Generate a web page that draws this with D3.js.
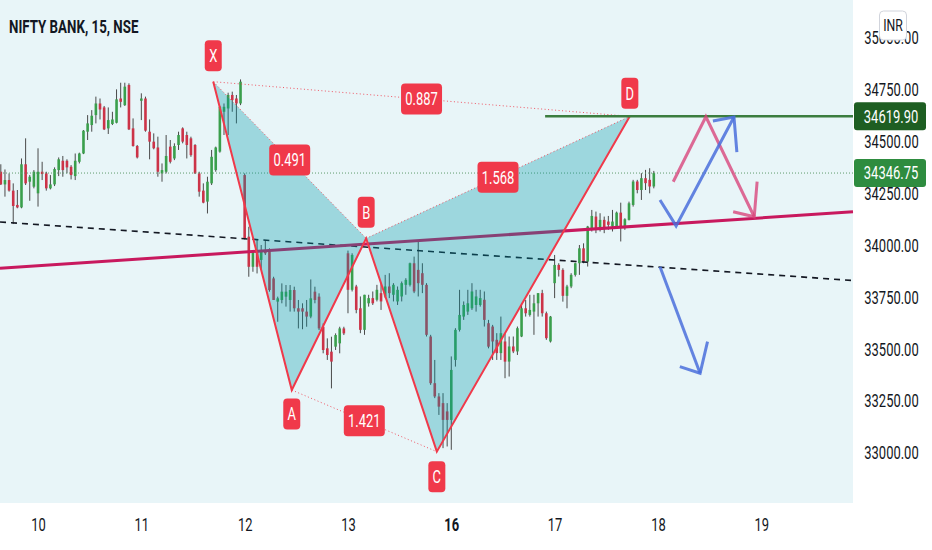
<!DOCTYPE html>
<html>
<head>
<meta charset="utf-8">
<script src="https://cdn.jsdelivr.net/npm/d3@7"></script>
<style>
  body { margin: 0; background: #fff; }
  svg { display: block; font-family: Roboto, "Noto Sans", sans-serif; }
</style>
</head>
<body>
<svg id="chart"></svg>
<script>
// 15 minute bars, 25 per session (last 9 bars of the 9th, then 10,11,12,13,16,17)
const opens = [
  34353,34292,34313,34262,34193,34181,34389,34305,34281,34249,
  34353,34345,34273,34292,34361,34406,34406,34377,34332,34401,
  34441,34546,34578,34626,34682,34663,34562,34583,34589,34706,
  34674,34771,34562,34477,34695,34706,34546,34498,34470,34345,
  34353,34474,34417,34482,34562,34530,34514,34482,34345,34262,
  34209,34297,34361,34450,34642,34658,34723,34706,34682,34337,
  34040,33895,33976,33928,33976,33976,33839,33727,33735,33751,
  33735,33783,33695,33695,33679,33655,33775,33751,33606,33502,
  33486,33510,33526,33598,33960,33784,33800,33695,33591,33719,
  33744,33736,33768,33752,33800,33760,33728,33752,33808,33808,
  33912,33880,33864,33808,33559,33334,33270,33238,33198,33157,
  33446,33591,33655,33679,33695,33711,33711,33736,33623,33607,
  33543,33479,33535,33438,33511,33487,33559,33695,33663,33679,
  33719,33768,33671,33535,33816,33904,33880,33755,33800,33856,
  33912,33984,33920,34081,34137,34073,34121,34113,34089,34089,
  34156,34081,34121,34193,34306,34265,34322,34314,34282
];
const highs = [
  34389,34364,34345,34297,34265,34417,34514,34337,34361,34466,
  34401,34353,34337,34374,34422,34429,34413,34385,34441,34445,
  34554,34626,34650,34715,34706,34670,34663,34642,34750,34782,
  34782,34779,34610,34482,34731,34715,34605,34538,34522,34393,
  34530,34506,34490,34546,34567,34546,34522,34486,34353,34297,
  34329,34458,34474,34670,34682,34734,34739,34723,34798,34345,
  34088,33976,34024,34000,34024,33984,33847,33751,33815,33807,
  33807,33799,33735,33719,33735,33834,33799,33767,33622,33550,
  33558,33574,33606,33606,33973,33960,33808,33752,33760,33760,
  33776,33808,33816,33856,33864,33816,33800,33824,33840,33915,
  33944,34017,33912,33816,33567,33446,33286,33286,33238,33463,
  33599,33784,33728,33784,33816,33784,33784,33776,33639,33615,
  33575,33655,33575,33559,33559,33607,33719,33735,33760,33760,
  33768,33784,33679,33658,33952,33912,33888,33808,33864,33915,
  34000,34008,34092,34169,34161,34153,34137,34140,34169,34161,
  34204,34129,34209,34314,34314,34346,34362,34370,34357
];
const lows = [
  34289,34233,34257,34101,34177,34177,34289,34213,34273,34185,
  34313,34262,34268,34284,34332,34329,34345,34316,34313,34393,
  34438,34506,34546,34586,34605,34554,34535,34578,34586,34663,
  34670,34554,34474,34417,34602,34546,34413,34461,34329,34305,
  34345,34393,34409,34458,34490,34417,34425,34342,34233,34201,
  34152,34289,34353,34445,34530,34530,34642,34586,34674,34027,
  33847,33871,33863,33879,33952,33775,33735,33630,33719,33703,
  33679,33679,33598,33594,33606,33647,33719,33590,33478,33446,
  33309,33494,33478,33566,33671,33776,33671,33575,33567,33703,
  33711,33728,33687,33744,33744,33728,33711,33728,33760,33800,
  33768,33752,33768,33559,33326,33262,33181,33021,33029,33013,
  33414,33583,33639,33663,33687,33679,33703,33607,33502,33446,
  33446,33446,33358,33366,33479,33470,33556,33655,33655,33567,
  33655,33655,33543,33530,33744,33848,33727,33695,33792,33848,
  33856,33912,33896,34065,34057,34065,34057,34073,34065,34081,
  34017,34073,34118,34185,34249,34217,34265,34249,34273
];
const closes = [
  34292,34313,34262,34188,34181,34389,34297,34329,34353,34353,
  34342,34273,34292,34366,34413,34361,34374,34337,34406,34441,
  34551,34586,34623,34682,34653,34557,34602,34605,34702,34690,
  34763,34557,34477,34422,34706,34551,34498,34466,34353,34361,
  34429,34401,34477,34530,34498,34482,34433,34345,34257,34204,
  34305,34425,34470,34666,34666,34723,34698,34682,34787,34032,
  33895,33968,33895,33976,33960,33783,33735,33743,33775,33775,
  33783,33695,33679,33679,33655,33743,33735,33598,33494,33470,
  33438,33566,33598,33574,33784,33952,33687,33591,33760,33744,
  33719,33784,33728,33800,33768,33808,33784,33816,33832,33912,
  33776,33816,33808,33567,33334,33270,33221,33157,33157,33398,
  33591,33663,33711,33719,33776,33752,33744,33639,33510,33535,
  33479,33575,33438,33511,33487,33599,33695,33671,33687,33719,
  33768,33671,33551,33655,33904,33880,33755,33800,33856,33912,
  33984,33920,34089,34140,34081,34121,34081,34097,34113,34156,
  34089,34124,34201,34306,34265,34322,34298,34282,34346.75
];

// x axis: day labels at the first bar of each session
const dayTicks = ["10", "11", "12", "13", "16", "17", "18", "19"];
const dayTickBars = [9, 34, 59, 84, 109, 134, 159, 184];
const boldDay = "16";

// y axis
const priceTicks = [33000, 33250, 33500, 33750, 34000, 34250, 34500, 34750, 35000];
const lastPrice = 34346.75;
const targetPrice = 34619.90;

// harmonic pattern
const patternNames = ["X", "A", "B", "C", "D"];
const patternBars = [51.4, 70.4, 88.4, 105.5, 152.2];
const patternPrices = [34787, 33301, 34032, 33004, 34619.9];
const ratioLabels = ["0.491", "1.421", "1.568", "0.887"];
const ratioPairs = [[0, 2], [1, 3], [2, 4], [0, 4]];

// drawings
const dashedTrend = [[-0.2, 34111], [206.2, 33829]];
const supportTrend = [[-0.2, 33888], [206.2, 34160]];
const targetLine = [[131.7, targetPrice], [206.2, targetPrice]];
const blueUpPath = [[159.5, 34217], [163.4, 34092], [177.4, 34617]];
const blueUpHead = [[172.3, 34598], [177.4, 34617], [178.1, 34448]];
const pinkPath = [[162.7, 34305], [170.6, 34618], [182.3, 34136]];
const pinkHead = [[177.2, 34160], [182.3, 34136], [183.0, 34305]];
const blueDownPath = [[159.5, 33895], [169.2, 33382]];
const blueDownHead = [[164.3, 33414], [169.2, 33382], [171.0, 33534]];

const W = 932, H = 550;
const plotW = 853, plotH = 503;
const SQ = 0.72; // horizontal squeeze of all lettering

const svg = d3.select('#chart').attr('width', W).attr('height', H);

const x = d3.scaleLinear().domain([-0.2, 206.2]).range([0, plotW]);
const y = d3.scaleLinear().domain([32756.6, 35180.7]).range([plotH, 0]);

const RED = '#f0394a';

svg.append('rect')
    .attr('width', plotW).attr('height', plotH)
    .attr('fill', '#e8f5f8');

// candles
const bars = d3.range(opens.length).map(i => ({
    i, o: opens[i], h: highs[i], l: lows[i], c: closes[i]
}));

const candleG = svg.append('g');
candleG.selectAll('line')
    .data(bars)
    .join('line')
    .attr('x1', d => x(d.i)).attr('x2', d => x(d.i))
    .attr('y1', d => y(Math.max(d.h, d.o, d.c)))
    .attr('y2', d => y(Math.min(d.l, d.o, d.c)))
    .attr('stroke', '#4a4a4a')
    .attr('stroke-width', 1);

candleG.selectAll('rect')
    .data(bars)
    .join('rect')
    .attr('x', d => x(d.i) - 1.3)
    .attr('width', 2.6)
    .attr('y', d => y(Math.max(d.o, d.c)))
    .attr('height', d => Math.max(1, Math.abs(y(d.o) - y(d.c))))
    .attr('fill', d => d.c >= d.o ? '#3a9f4c' : '#cc3348');

const line = d3.line().x(d => x(d[0])).y(d => y(d[1]));

// last price dotted line
svg.append('line')
    .attr('x1', 0).attr('x2', plotW)
    .attr('y1', y(lastPrice)).attr('y2', y(lastPrice))
    .attr('stroke', '#5f9a6c')
    .attr('stroke-width', 1)
    .attr('stroke-dasharray', '1,2');

// trend lines
svg.append('path')
    .attr('d', line(dashedTrend))
    .attr('fill', 'none')
    .attr('stroke', '#131722')
    .attr('stroke-width', 1.6)
    .attr('stroke-dasharray', '6,5');

svg.append('path')
    .attr('d', line(supportTrend))
    .attr('fill', 'none')
    .attr('stroke', '#c8195e')
    .attr('stroke-width', 3);

// pattern fill
const pts = patternBars.map((b, i) => [b, patternPrices[i]]);
svg.append('path')
    .attr('d', line([pts[0], pts[1], pts[2]]) + 'Z')
    .attr('fill', 'rgba(0,151,167,0.32)');
svg.append('path')
    .attr('d', line([pts[2], pts[3], pts[4]]) + 'Z')
    .attr('fill', 'rgba(0,151,167,0.32)');

// dotted ratio legs
ratioPairs.forEach(p => {
    svg.append('path')
        .attr('d', line([pts[p[0]], pts[p[1]]]))
        .attr('fill', 'none')
        .attr('stroke', RED)
        .attr('stroke-width', 1)
        .attr('stroke-dasharray', '1,2.5')
        .attr('opacity', 0.85);
});

// pattern legs
svg.append('path')
    .attr('d', line(pts))
    .attr('fill', 'none')
    .attr('stroke', RED)
    .attr('stroke-width', 2)
    .attr('stroke-linejoin', 'miter');

// target line
svg.append('path')
    .attr('d', line(targetLine))
    .attr('stroke', '#3b7d3f')
    .attr('stroke-width', 2.5);

// hand-drawn arrows
function stroke(data, color, op) {
    svg.append('path')
        .attr('d', line(data))
        .attr('fill', 'none')
        .attr('stroke', color)
        .attr('stroke-width', 3)
        .attr('stroke-linejoin', 'miter')
        .attr('opacity', op);
}
stroke(pinkPath, '#d8467c', 0.8);
stroke(pinkHead, '#d8467c', 0.8);
stroke(blueUpPath, '#4a6fdc', 0.85);
stroke(blueUpHead, '#4a6fdc', 0.85);
stroke(blueDownPath, '#4a6fdc', 0.85);
stroke(blueDownHead, '#4a6fdc', 0.85);

// squeezed text helper
function sqText(g, cx, cy, str, size, color, weight, anchor) {
    return g.append('text')
        .attr('transform', `translate(${cx},${cy}) scale(${SQ},1)`)
        .attr('text-anchor', anchor || 'middle')
        .attr('dominant-baseline', 'central')
        .attr('font-size', size)
        .attr('font-weight', weight || 'normal')
        .attr('fill', color)
        .text(str);
}

function badge(cx, cy, w, h, str) {
    const g = svg.append('g');
    g.append('rect')
        .attr('x', cx - w / 2).attr('y', cy - h / 2)
        .attr('width', w).attr('height', h)
        .attr('rx', 4)
        .attr('fill', RED);
    sqText(g, cx, cy, str, 18, '#fff');
}

// point letters
const letterOffset = [-26, 24, -26, 25, -23];
patternNames.forEach((n, i) => {
    badge(x(patternBars[i]), y(patternPrices[i]) + letterOffset[i], 17, 31, n);
});

// ratio labels at leg midpoints
ratioPairs.forEach((p, k) => {
    const cx = (x(patternBars[p[0]]) + x(patternBars[p[1]])) / 2;
    const cy = (y(patternPrices[p[0]]) + y(patternPrices[p[1]])) / 2;
    badge(cx, cy, 41, 31, ratioLabels[k]);
});

// title
sqText(svg, 9, 27, 'NIFTY BANK, 15, NSE', 18.5, '#131722', 'bold', 'start');

// y axis
const yAxis = svg.append('g')
    .attr('transform', `translate(${plotW},0)`)
    .call(d3.axisRight(y).tickValues(priceTicks).tickFormat(d3.format('.2f')).tickSize(0));
yAxis.select('.domain').remove();
yAxis.selectAll('text')
    .attr('x', 38.5 / SQ)
    .attr('dy', '0.35em')
    .attr('text-anchor', 'middle')
    .attr('transform', `scale(${SQ},1)`)
    .attr('font-size', 18)
    .attr('font-family', 'Roboto, sans-serif')
    .attr('fill', '#131722');

// x axis
const xAxis = svg.append('g')
    .attr('transform', 'translate(0,525)')
    .call(d3.axisBottom(x).tickValues(dayTickBars)
        .tickFormat((d, i) => dayTicks[i]).tickSize(0));
xAxis.select('.domain').remove();
xAxis.selectAll('text')
    .attr('y', 0)
    .attr('dy', '0.35em')
    .attr('transform', `scale(${SQ},1)`)
    .attr('font-size', 18)
    .attr('font-family', 'Roboto, sans-serif')
    .attr('font-weight', (d, i) => dayTicks[i] === boldDay ? 'bold' : 'normal')
    .attr('fill', '#131722');

// price tags
function priceTag(price, fill) {
    const g = svg.append('g');
    const cy = y(price);
    g.append('rect')
        .attr('x', plotW + 1).attr('y', cy - 14)
        .attr('width', 72).attr('height', 28)
        .attr('rx', 3)
        .attr('fill', fill);
    sqText(g, plotW + 38, cy, d3.format('.2f')(price), 18, '#fff');
}
priceTag(targetPrice, '#1e5e22');
priceTag(lastPrice, '#2e8c3f');

// currency badge
const inr = svg.append('g');
inr.append('rect')
    .attr('x', 879.5).attr('y', 11)
    .attr('width', 27).attr('height', 29)
    .attr('rx', 4)
    .attr('fill', '#fff')
    .attr('stroke', '#d1d4dc');
sqText(inr, 893, 25.5, 'INR', 17, '#131722');
</script>
</body>
</html>
